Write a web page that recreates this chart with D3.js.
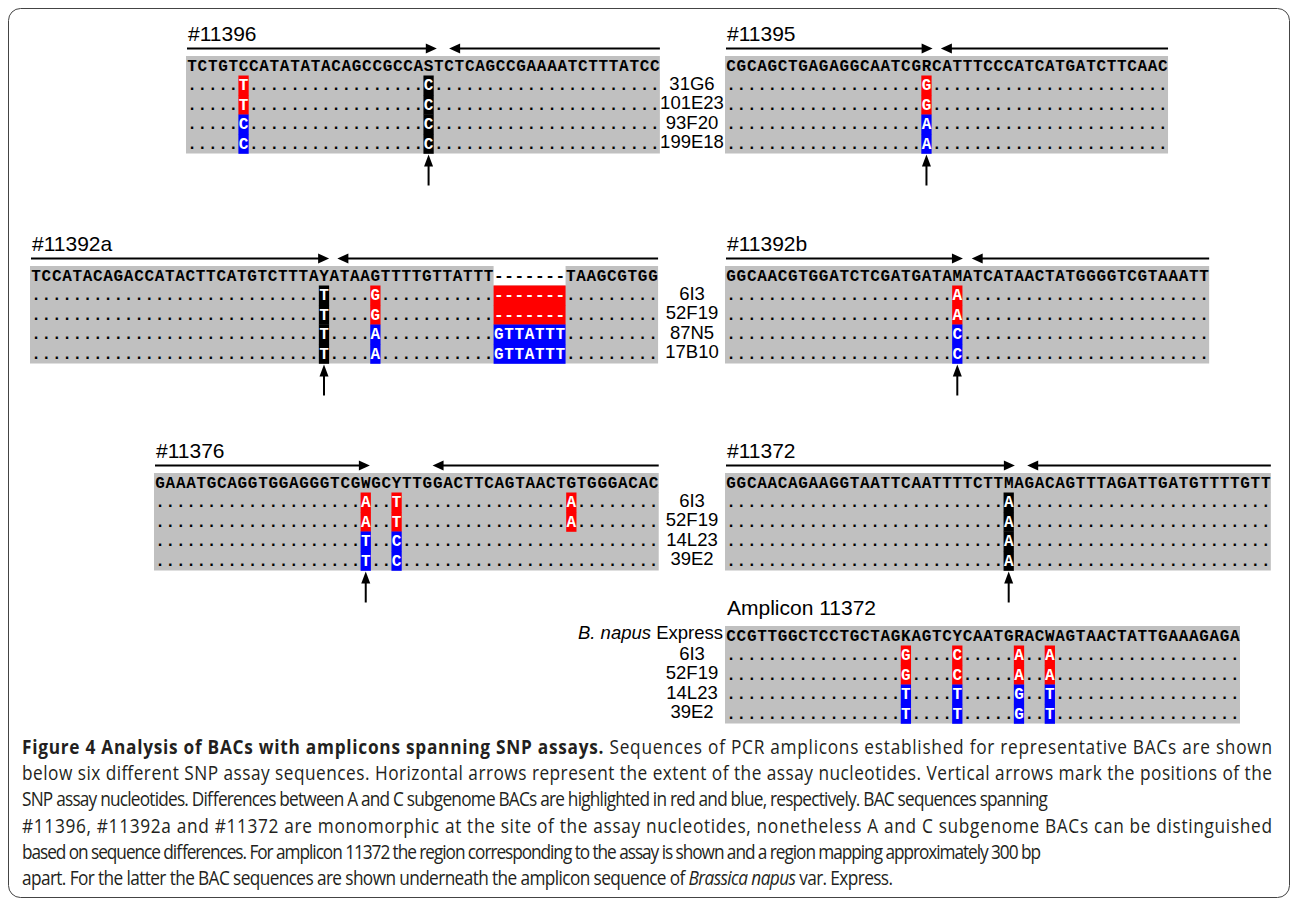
<!DOCTYPE html>
<html>
<head>
<meta charset="utf-8">
<script src="https://cdn.jsdelivr.net/npm/d3@7"></script>
<style>
  body { margin: 0; background: #fff; }
  .seq { font-family: "Liberation Mono", "DejaVu Sans Mono", monospace; font-weight: bold; font-size: 16px; }
  .lab { font-family: "Liberation Sans", Arial, sans-serif; }
  .cap { font-family: "Open Sans", "Noto Sans", sans-serif; font-size: 19.5px; fill: #231f20; }
</style>
</head>
<body>
<svg id="fig" width="1292" height="901"></svg>
<script>
// ── Data ───────────────────────────────────────────────────────────────────

const PANELS = ['#11396', '#11395', '#11392a', '#11392b', '#11376', '#11372', 'Amplicon 11372'];

const SEQUENCES = [
  'TCTGTCCATATATACAGCCGCCASTCTCAGCCGAAAATCTTTATCC',
  'CGCAGCTGAGAGGCAATCGRCATTTCCCATCATGATCTTCAAC',
  'TCCATACAGACCATACTTCATGTCTTTAYATAAGTTTTGTTATTT-------TAAGCGTGG',
  'GGCAACGTGGATCTCGATGATAMATCATAACTATGGGGTCGTAAATT',
  'GAAATGCAGGTGGAGGGTCGWGCYTTGGACTTCAGTAACTGTGGGACAC',
  'GGCAACAGAAGGTAATTCAATTTTCTTMAGACAGTTTAGATTGATGTTTTGTT',
  'CCGTTGGCTCCTGCTAGKAGTCYCAATGRACWAGTAACTATTGAAAGAGA'
];

// assay nucleotide (column index) and arrow ends, in sequence columns
const SNP_INDEX = [23, 19, 28, 22, 20, 27, null];
const FWD_TO = [24.3, 20.1, 29.0, 23.05, 20.9, 28.1, null];
const REV_FROM = [25.5, 20.9, 29.8, 23.9, 27.0, 29.3, null];

// [panel, column, bases of the 4 BAC rows, subgenome per row: A / C / M(onomorphic) / . (same)]
const VARIANTS = [
  [0, 5, ['T', 'T', 'C', 'C'], 'AACC'],
  [0, 23, ['C', 'C', 'C', 'C'], 'MMMM'],
  [1, 19, ['G', 'G', 'A', 'A'], 'AACC'],
  [2, 28, ['T', 'T', 'T', 'T'], 'MMMM'],
  [2, 33, ['G', 'G', 'A', 'A'], 'AACC'],
  [2, 45, ['-------', '-------', 'GTTATTT', 'GTTATTT'], 'AACC'],
  [3, 22, ['A', 'A', 'C', 'C'], 'AACC'],
  [4, 20, ['A', 'A', 'T', 'T'], 'AACC'],
  [4, 23, ['T', 'T', 'C', 'C'], 'AACC'],
  [4, 40, ['A', 'A', '.', '.'], 'AA..'],
  [5, 27, ['A', 'A', 'A', 'A'], 'MMMM'],
  [6, 17, ['G', 'G', 'T', 'T'], 'AACC'],
  [6, 22, ['C', 'C', 'T', 'T'], 'AACC'],
  [6, 28, ['A', 'A', 'G', 'G'], 'AACC'],
  [6, 31, ['A', 'A', 'T', 'T'], 'AACC']
];

const BAC_TOP = ['31G6', '101E23', '93F20', '199E18'];
const BAC_MID = ['6I3', '52F19', '87N5', '17B10'];
const BAC_BOTTOM = ['6I3', '52F19', '14L23', '39E2'];
const BAC_AMPLICON = ['6I3', '52F19', '14L23', '39E2'];

const CAPTION = [
  [['Figure 4 Analysis of BACs with amplicons spanning SNP assays.', 'b'], [' Sequences of PCR amplicons established for representative BACs are shown', '']],
  [['below six different SNP assay sequences. Horizontal arrows represent the extent of the assay nucleotides. Vertical arrows mark the positions of the', '']],
  [['SNP assay nucleotides. Differences between A and C subgenome BACs are highlighted in red and blue, respectively. BAC sequences spanning', '']],
  [['#11396, #11392a and #11372 are monomorphic at the site of the assay nucleotides, nonetheless A and C subgenome BACs can be distinguished', '']],
  [['based on sequence differences. For amplicon 11372 the region corresponding to the assay is shown and a region mapping approximately 300 bp', '']],
  [['apart. For the latter the BAC sequences are shown underneath the amplicon sequence of ', ''], ['Brassica napus', 'i'], [' var. Express.', '']]
];

// ── Layout ─────────────────────────────────────────────────────────────────

const CW = 10.28;     // column width
const RH = 19.5;      // row height
const GRAY = '#c0c0c0';
const GENOME_COLOR = { A: '#ff0000', C: '#0000ff', M: '#000000' };
const PANEL_POS = [
  { x: 187, top: 56 }, { x: 726, top: 56 },
  { x: 31, top: 266 }, { x: 726, top: 266 },
  { x: 155, top: 473 }, { x: 726, top: 473 },
  { x: 726, top: 626 }
];
const LABEL_X = 692;
const LABEL_SETS = [[BAC_TOP, 56], [BAC_MID, 266], [BAC_BOTTOM, 473], [BAC_AMPLICON, 626]];

const svg = d3.select('#fig');

// frame
svg.append('rect')
  .attr('x', 8.5).attr('y', 8.5).attr('width', 1281).attr('height', 889)
  .attr('rx', 12).attr('fill', 'none').attr('stroke', '#444').attr('stroke-width', 1);

// ── Alignment panels ───────────────────────────────────────────────────────

function arrowHead(x, y, dir) {
  // dir: 1 = right, -1 = left, 'up'
  if (dir === 'up') return `M${x},${y} L${x - 4.5},${y + 12} L${x + 4.5},${y + 12} Z`;
  return `M${x},${y} L${x - dir * 11},${y - 5} L${x - dir * 11},${y + 5} Z`;
}

PANELS.forEach((name, p) => {
  const seq = SEQUENCES[p];
  const n = seq.length;
  const { x, top } = PANEL_POS[p];
  const xs = d3.scaleLinear().domain([0, n]).range([x, x + n * CW]);
  const ys = d3.scaleLinear().domain([0, 5]).range([top, top + 5 * RH]);
  const g = svg.append('g').attr('class', 'panel');

  // gray background: BAC rows full width, sequence row skips gaps
  g.append('rect')
    .attr('x', xs(0) - 1).attr('y', ys(1))
    .attr('width', xs(n) - xs(0) + 1).attr('height', ys(5) - ys(1))
    .attr('fill', GRAY);
  let runStart = null;
  for (let i = 0; i <= n; i++) {
    const isGap = i === n || seq[i] === '-';
    if (!isGap && runStart === null) runStart = i;
    if (isGap && runStart !== null) {
      g.append('rect')
        .attr('x', xs(runStart) - (runStart === 0 ? 1 : 0)).attr('y', ys(0))
        .attr('width', xs(i) - xs(runStart) + (runStart === 0 ? 1 : 0)).attr('height', RH + 0.5)
        .attr('fill', GRAY);
      runStart = null;
    }
  }

  // highlighted variant cells
  const covered = new Set();
  VARIANTS.filter(v => v[0] === p).forEach(([, col, bases, genomes]) => {
    bases.forEach((b, r) => {
      const gc = genomes[r];
      if (gc === '.') return;
      const w = b.length;
      g.append('rect')
        .attr('x', xs(col)).attr('y', ys(r + 1))
        .attr('width', xs(col + w) - xs(col)).attr('height', RH + 0.3)
        .attr('fill', GENOME_COLOR[gc]);
      for (let k = 0; k < w; k++) {
        covered.add(`${r}:${col + k}`);
        g.append('text').attr('class', 'seq')
          .attr('x', xs(col + k + 0.5)).attr('y', ys(r + 2) - 5)
          .attr('text-anchor', 'middle').attr('fill', '#fff')
          .text(b[k]);
      }
    });
  });

  // dots for identical bases
  for (let r = 0; r < 4; r++) {
    for (let i = 0; i < n; i++) {
      if (covered.has(`${r}:${i}`)) continue;
      g.append('text').attr('class', 'seq')
        .attr('x', xs(i + 0.5)).attr('y', ys(r + 2) - 5)
        .attr('text-anchor', 'middle').attr('fill', '#000')
        .text('.');
    }
  }

  // reference sequence
  g.selectAll('text.ref')
    .data(seq.split(''))
    .enter()
    .append('text').attr('class', 'seq ref')
    .attr('x', (d, i) => xs(i + 0.5)).attr('y', ys(1) - 5)
    .attr('text-anchor', 'middle').attr('fill', '#000')
    .text(d => d);

  // title
  const hasArrows = SNP_INDEX[p] !== null;
  g.append('text').attr('class', 'lab')
    .attr('x', xs(0) + 1).attr('y', top - (hasArrows ? 15 : 11))
    .attr('font-size', 21).attr('fill', '#000')
    .text(name);

  if (!hasArrows) return;

  // horizontal arrows (assay extent)
  const ay = top - 7.5;
  const fx = xs(FWD_TO[p]);
  const rx = xs(REV_FROM[p]);
  g.append('line').attr('x1', xs(0)).attr('x2', fx - 8).attr('y1', ay).attr('y2', ay)
    .attr('stroke', '#000').attr('stroke-width', 2);
  g.append('path').attr('d', arrowHead(fx, ay, 1)).attr('fill', '#000');
  g.append('line').attr('x1', rx + 8).attr('x2', xs(n)).attr('y1', ay).attr('y2', ay)
    .attr('stroke', '#000').attr('stroke-width', 2);
  g.append('path').attr('d', arrowHead(rx, ay, -1)).attr('fill', '#000');

  // vertical arrow (assay nucleotide)
  const vx = xs(SNP_INDEX[p] + 0.5);
  const vy = ys(5) + 1;
  g.append('line').attr('x1', vx).attr('x2', vx).attr('y1', vy + 8).attr('y2', vy + 31)
    .attr('stroke', '#000').attr('stroke-width', 2);
  g.append('path').attr('d', arrowHead(vx, vy, 'up')).attr('fill', '#000');
});

// ── BAC labels ─────────────────────────────────────────────────────────────

LABEL_SETS.forEach(([labels, top]) => {
  const ys = d3.scaleLinear().domain([0, 5]).range([top, top + 5 * RH]);
  svg.append('g').selectAll('text')
    .data(labels)
    .enter()
    .append('text').attr('class', 'lab')
    .attr('x', LABEL_X).attr('y', (d, i) => ys(i + 2) - 5.5)
    .attr('text-anchor', 'middle').attr('font-size', 18.5).attr('fill', '#000')
    .text(d => d);
});

// reference label of the amplicon
const refLabel = svg.append('text').attr('class', 'lab')
  .attr('x', 723).attr('y', 626 + RH - 6.5)
  .attr('text-anchor', 'end').attr('font-size', 18.5).attr('fill', '#000');
refLabel.append('tspan').attr('font-style', 'italic').text('B. napus');
refLabel.append('tspan').text(' Express');

// ── Caption ────────────────────────────────────────────────────────────────

// line ends measured off the original; one common glyph squeeze imitates the
// narrow caption face, letter spacing takes up what is left on each line
const CAP_END = [1272, 1272, 1048, 1272, 1041, 893];
const CAP_X = 22;
const capY = d3.scaleLinear().domain([0, 5]).range([754, 885]);

const capLines = CAPTION.map((parts, li) => {
  const g = svg.append('g');
  const t = g.append('text').attr('class', 'cap');
  parts.forEach(([s, style]) => {
    const ts = t.append('tspan').text(s);
    if (style === 'b') ts.attr('font-weight', 'bold');
    if (style === 'i') ts.attr('font-style', 'italic');
  });
  const natural = t.node().getComputedTextLength();
  return { g, t, li, ratio: (CAP_END[li] - CAP_X) / natural };
});

const sx = d3.mean(capLines.slice(0, 5), d => d.ratio);

capLines.forEach(({ g, t, li }) => {
  g.attr('transform', `translate(${CAP_X},${capY(li)}) scale(${sx},1)`);
  t.attr('textLength', (CAP_END[li] - CAP_X) / sx).attr('lengthAdjust', 'spacing');
});
</script>
</body>
</html>
